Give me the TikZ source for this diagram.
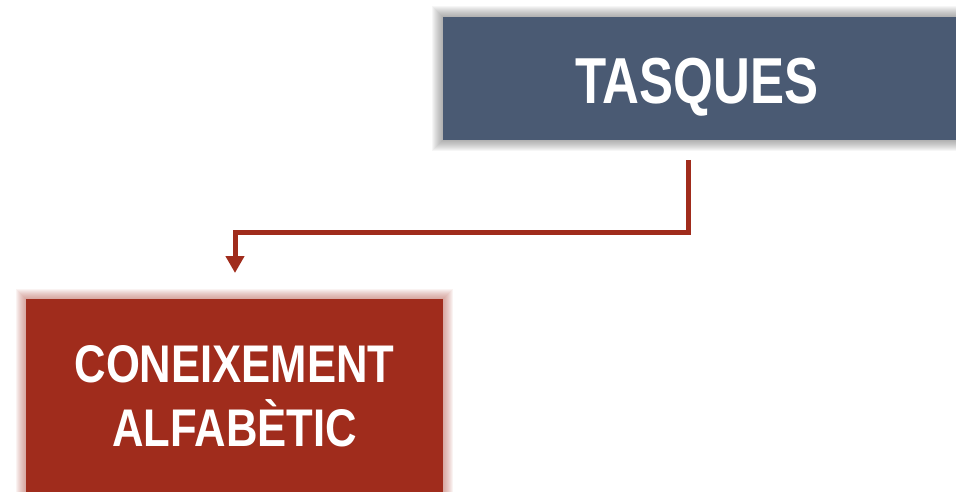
\documentclass[tikz,border=0pt]{standalone}
\usepackage{fontspec}
\setmainfont[FakeStretch=0.8]{Liberation Sans}
\newfontfamily\tasfont[FakeStretch=0.785]{Liberation Sans}
\newfontfamily\alfafont[FakeStretch=0.823]{Liberation Sans}
\usetikzlibrary{arrows.meta}
\definecolor{slateblue}{HTML}{4A5A73}
\definecolor{brick}{HTML}{A02C1C}
\tikzset{
  box/.style={rectangle, inner sep=0pt},
  label text/.style={inner sep=0pt, text=white, align=center, anchor=base},
  conn/.style={draw=brick, line width=5pt, line join=miter, -{Triangle[length=17pt,width=18pt]}}
}
\begin{document}
\begin{tikzpicture}[x=1pt,y=1pt]
\useasboundingbox (0,0) rectangle (956,-492);
% shadow of the top box
\foreach \k in {1,...,11}{
  \fill[black!65, fill opacity=0.055] (443-\k,-17+\k) rectangle (970,-140-\k);
}
% glow of the bottom box
\foreach \k in {1,...,10}{
  \fill[brick!75!white, fill opacity=0.075] (26-\k,-299+\k) rectangle (443+\k,-510);
}
\node[box, fill=slateblue, minimum width=527pt, minimum height=123pt] (tasques) at (706.5,-78.5) {};
\node[box, fill=brick, minimum width=417pt, minimum height=211pt] (alfa) at (234.5,-404.5) {};
\node[label text, font=\tasfont\bfseries\fontsize{65}{70}\selectfont] (tasquestext) at (697,-104) {TASQUES};
\node[label text, font=\alfafont\bfseries\fontsize{53}{64}\selectfont] (alfatext) at (234.5,-446) {CONEIXEMENT\\ALFABÈTIC};
\coordinate (s) at (688,-160);
\coordinate (m) at (235,-232);
\coordinate (t) at (235,-273);
\draw[conn] (s) |- (m) -- (t);
\end{tikzpicture}
\end{document}
